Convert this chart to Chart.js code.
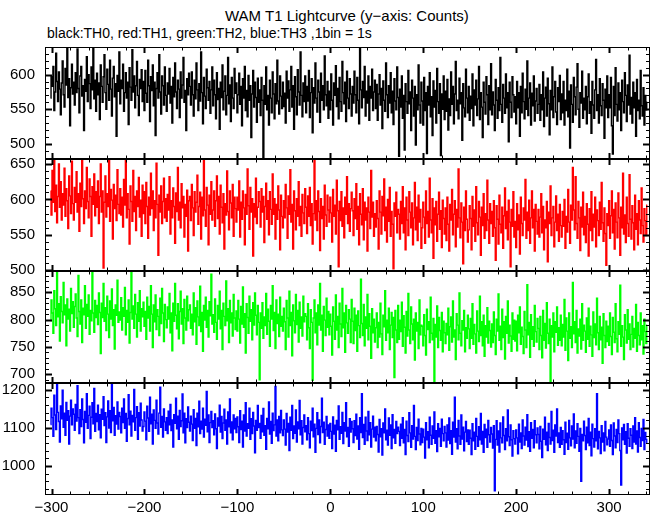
<!DOCTYPE html>
<html>
<head>
<meta charset="utf-8">
<script src="https://cdn.jsdelivr.net/npm/chart.js@4.4.1/dist/chart.umd.min.js"></script>
<style>
  body { margin: 0; background: #fff; }
  #wrap { position: relative; width: 652px; height: 515px; overflow: hidden; background: #fff; }
  .txt { position: absolute; font-family: "Liberation Sans", Arial, Helvetica, sans-serif; color: #000; white-space: nowrap; line-height: 1; }
  .panel { position: absolute; left: 0; }
</style>
</head>
<body>
<div id="wrap">
  <div class="txt" style="left:225px; top:8px; font-size:15px;">WAM T1 Lightcurve (y&minus;axis: Counts)</div>
  <div class="txt" style="left:47px; top:26px; font-size:14px;">black:TH0, red:TH1, green:TH2, blue:TH3 ,1bin = 1s</div>
  <div class="panel" style="top:37px"><canvas id="p0" width="652" height="132"></canvas></div>
  <div class="panel" style="top:149px"><canvas id="p1" width="652" height="132"></canvas></div>
  <div class="panel" style="top:261px"><canvas id="p2" width="652" height="132"></canvas></div>
  <div class="panel" style="top:373px"><canvas id="p3" width="652" height="142"></canvas></div>
</div>
<script>
// time axis: first bin centre and bin width (s)
const t0 = -301;
const binWidth = 1;
const xMin = -307, xMax = 344;
const xTicks = [-300, -200, -100, 0, 100, 200, 300];

// TH0 counts (black), one row = 25 s
const th0 = [
  566,597,583,612,548, 575,631,590,561,604, 579,542,588,620,571, 553,609,585,640,567, 594,526,581,615,572,
  589,556,603,574,637, 580,545,598,612,569, 584,519,593,576,626, 561,600,587,551,611, 578,640,565,592,547,
  602,571,588,535,614, 583,560,597,629,574, 550,608,586,563,621, 579,540,595,612,568, 587,511,599,576,633,
  558,592,580,615,547, 574,603,566,589,528, 610,582,563,636,575, 598,552,584,619,570, 541,593,580,607,561,
  590,548,606,573,560, 621,584,532,597,577, 614,555,589,512,580, 603,566,629,575,543, 598,584,556,611,570,
  547,588,572,609,559, 583,530,596,568,617, 575,551,592,579,538, 604,566,585,625,560, 577,519,594,571,602,
  583,556,604,571,540, 592,565,617,578,548, 587,562,633,574,529, 596,569,551,608,581, 563,590,544,578,611,
  555,592,571,536,603, 564,580,521,589,567, 614,549,576,598,542, 570,625,558,585,532, 596,566,551,609,573,
  588,545,571,602,557, 583,526,594,566,612, 548,577,539,599,563, 584,509,572,606,553, 589,567,531,595,560,
  578,541,596,563,478, 584,557,611,549,570, 527,592,566,545,604, 572,536,587,558,621, 562,543,598,569,551,
  589,554,573,530,605, 566,591,547,578,612, 553,584,521,597,568, 542,607,575,556,633, 570,539,588,561,598,
  545,583,562,606,538, 574,594,516,581,559, 617,566,546,592,575, 531,602,563,584,549, 627,571,555,590,537,
  576,549,601,563,527, 588,570,613,554,580, 536,596,561,547,619, 574,558,589,532,605, 566,551,594,572,540,
  583,559,605,571,545, 596,563,529,642,578, 552,590,567,612,540, 576,559,598,534,583, 566,608,548,575,592,
  551,586,534,572,600, 556,580,522,591,563, 547,617,571,538,584, 559,603,545,576,528, 594,562,549,611,567,
  482,579,553,598,537, 570,491,587,561,544, 606,558,575,519,592, 566,540,583,498,571, 549,614,556,530,589,
  562,527,596,548,574, 486,583,556,603,539, 568,512,591,553,577, 530,609,561,544,587, 483,572,550,598,535,
  576,547,593,520,565, 541,604,557,583,529, 572,619,548,563,536, 595,558,574,505,587, 552,539,608,566,545,
  583,534,569,551,601, 526,578,556,592,541, 565,612,535,574,553, 509,589,560,543,597, 571,528,584,549,616,
  542,575,556,519,593, 563,537,581,548,625, 557,531,586,566,544, 601,552,574,503,589, 560,538,597,571,546,
  568,529,590,552,574, 511,583,545,602,561, 536,579,550,620,541, 566,588,527,573,555, 598,533,562,580,544,
  557,586,534,571,549, 604,525,566,582,540, 595,558,513,577,549, 611,538,568,590,546, 528,581,561,599,535,
  572,545,590,527,563, 548,608,539,576,494, 585,557,531,596,568, 542,582,616,550,524, 574,559,605,537,566,
  549,583,529,568,601, 544,561,515,590,556, 537,578,622,548,571, 530,594,555,541,587, 563,508,579,552,598,
  538,571,552,596,526, 485,583,541,610,557, 533,588,549,574,519, 592,561,545,603,570, 532,585,556,628,543,
  567,530,589,552,574, 511,593,548,563,536, 606,555,540,581,527, 570,549,560
];
// TH1 counts (red)
const th1 = [
  612,578,641,596,658, 583,620,567,604,650, 589,625,571,608,592, 644,576,615,598,559, 633,605,580,654,594,
  571,617,596,639,582, 608,555,623,590,658, 601,566,612,587,645, 597,574,629,604,548, 618,593,636,577,611,
  589,626,566,604,650, 582,612,503,596,633, 575,608,590,657,569, 614,599,544,621,587, 606,570,642,593,580,
  615,578,603,561,628, 592,657,574,608,586, 537,619,597,569,641, 583,604,556,612,590, 631,575,599,548,620,
  580,611,566,624,590, 545,603,578,637,587, 612,556,598,574,651, 593,521,606,582,619, 566,597,630,574,601,
  569,607,585,632,551, 598,574,616,590,538, 609,583,645,571,596, 560,622,588,604,547, 593,576,613,527,598,
  604,570,621,588,549, 611,582,596,634,565, 590,610,544,603,577, 657,585,562,617,592, 536,606,579,625,571,
  585,612,562,598,633, 573,604,551,620,589, 567,608,530,594,578, 640,583,557,612,595, 574,621,548,603,587,
  568,603,585,626,547, 596,572,612,588,536, 607,579,643,591,558, 617,582,601,520,594, 575,630,566,589,611,
  597,561,615,582,604, 539,590,623,572,598, 550,611,586,565,636, 579,601,544,593,572, 619,585,529,606,576,
  560,598,574,621,588, 545,605,579,642,568, 593,530,612,584,557, 601,576,625,563,590, 548,607,581,566,615,
  589,552,605,576,617, 563,594,537,580,657, 571,598,556,612,583, 528,601,573,590,544, 620,578,562,606,585,
  568,603,581,540,614, 576,592,551,627,584, 505,597,570,611,562, 588,546,603,579,632, 566,594,555,587,610,
  584,549,601,573,622, 558,590,536,608,579, 564,615,543,596,571, 588,527,603,582,559, 641,575,596,548,580,
  561,598,573,530,612, 582,551,604,577,629, 556,589,540,600,569, 617,548,583,565,502, 595,576,610,553,586,
  579,544,597,566,618, 553,588,529,603,571, 549,611,582,560,595, 536,574,624,557,589, 542,606,568,586,531,
  560,596,575,538,612, 566,583,547,630,571, 553,601,517,588,564, 597,541,579,610,558, 584,532,599,573,551,
  588,542,603,565,527, 593,571,614,550,579, 598,533,586,561,643, 574,546,595,568,509, 589,556,612,572,540,
  557,591,573,529,604, 562,585,541,618,567, 550,597,575,521,589, 563,608,545,580,556, 627,571,538,594,566,
  583,548,598,560,514, 591,572,537,606,565, 553,589,531,577,616, 559,583,543,599,568, 505,586,562,611,547,
  569,532,594,557,578, 523,603,566,549,588, 571,628,545,582,556, 599,538,574,612,560, 586,527,593,569,551,
  586,547,575,608,553, 590,529,571,560,597, 512,582,566,619,549, 574,590,533,568,605, 556,579,541,593,563,
  547,583,562,600,531, 576,554,614,568,538, 592,571,645,585,557, 632,566,545,597,574, 528,589,561,610,550,
  576,539,594,565,520, 587,556,611,542,579, 561,603,533,585,570, 549,596,558,624,567, 541,588,552,507,580,
  563,598,545,577,612, 553,586,530,595,568, 546,609,574,521,589, 560,637,551,578,539, 603,566,548,635,572,
  544,591,567,529,606, 558,580,536,598,571, 552,616,563,540,587, 570,549,592
];
// TH2 counts (green)
const th2 = [
  798,836,812,775,853, 820,789,889,805,829, 761,842,815,794,868, 809,827,752,838,801, 819,779,857,811,833,
  786,824,847,803,769, 881,815,792,836,758, 821,809,862,784,828, 806,845,773,817,798, 889,812,777,835,804,
  826,791,849,813,738, 830,804,866,797,822, 780,843,810,767,834, 801,856,789,818,746, 827,808,872,795,814,
  799,840,781,822,806, 859,772,817,795,836, 757,813,889,801,825, 784,846,810,768,831, 797,853,779,820,805,
  832,788,815,764,841, 803,824,779,862,810, 749,827,796,845,782, 818,806,771,839,793, 857,812,760,828,800,
  785,823,801,848,776, 812,743,830,797,866, 808,783,829,765,815, 852,792,820,756,837, 803,781,843,798,818,
  827,784,810,772,849, 796,822,755,834,805, 789,861,778,813,742, 826,799,841,786,817, 768,833,807,883,792,
  809,777,838,795,764, 826,801,852,783,817, 745,830,806,789,871, 798,820,758,835,794, 812,770,846,803,782,
  816,779,835,801,757, 824,792,860,786,811, 739,829,804,775,843, 797,818,763,831,790, 849,808,772,826,795,
  690,812,784,831,766, 805,789,848,773,819, 797,751,826,801,862, 780,813,747,836,793, 810,769,841,788,806,
  779,821,796,745,835, 803,768,852,789,813, 734,827,798,776,846, 791,817,759,832,784, 805,770,843,796,811,
  806,763,829,785,747, 818,795,689,803,836, 776,812,754,827,790, 866,781,808,742,824, 799,771,839,786,815,
  772,810,788,735,823, 797,764,845,781,806, 749,830,792,769,857, 785,812,740,826,794, 775,818,801,758,837,
  797,756,821,780,808, 742,816,789,767,874, 793,771,828,752,805, 784,846,763,811,788, 729,820,776,801,759,
  785,812,749,795,768, 830,774,736,808,787, 853,762,799,776,821, 745,790,813,767,804, 694,817,781,758,826,
  764,799,778,832,751, 807,786,739,815,770, 848,781,756,823,792, 763,801,726,812,779, 795,747,836,772,790,
  788,752,809,771,735, 819,782,796,758,841, 775,763,802,685,791, 768,825,749,804,780, 762,813,741,797,776,
  756,793,772,821,744, 787,805,759,834,768, 781,727,811,790,763, 849,775,752,798,781, 817,741,785,766,808,
  783,747,802,766,829, 755,791,774,739,816, 779,760,843,771,796, 752,808,733,789,768, 822,757,797,780,750,
  792,758,814,771,736, 801,779,847,762,788, 745,819,767,796,728, 806,775,834,757,790, 770,742,812,764,799,
  761,797,743,808,776, 823,755,786,769,738, 815,781,749,864,772, 795,731,809,764,787, 751,826,778,759,802,
  784,745,806,771,730, 817,762,793,748,831, 775,756,801,686,789, 768,812,741,796,777, 823,753,785,762,808,
  752,791,768,837,744, 803,779,725,812,766, 787,749,868,774,796, 758,817,739,783,770, 801,746,829,762,790,
  779,740,803,764,821, 751,788,772,733,814, 767,792,754,839,776, 745,806,763,786,720, 811,771,749,797,760,
  788,753,812,769,736, 804,777,758,829,765, 741,796,773,863,751, 789,768,727,809,781, 757,818,764,792,745,
  773,806,750,784,766, 828,742,795,771,754, 812,763,789,737,801, 778,756,790
];
// TH3 counts (blue)
const th3 = [
  1109,1152,1127,1078,1186, 1134,1096,1218,1141,1117, 1063,1158,1124,1199,1102, 1139,1081,1167,1120,1145, 1058,1131,1173,1108,1150,
  1136,1094,1162,1118,1211, 1127,1085,1148,1104,1176, 1122,1061,1143,1115,1190, 1099,1133,1157,1072,1128, 1166,1111,1204,1091,1138,
  1117,1160,1095,1135,1074, 1149,1123,1182,1106,1140, 1062,1129,1171,1100,1145, 1088,1218,1119,1154,1081, 1132,1110,1168,1097,1141,
  1130,1087,1152,1114,1176, 1099,1138,1065,1125,1187, 1108,1144,1079,1133,1116, 1201,1094,1127,1156,1070, 1140,1105,1165,1121,1092,
  1104,1142,1118,1069,1157, 1126,1091,1181,1111,1136, 1058,1147,1120,1099,1173, 1113,1084,1139,1207,1102, 1130,1076,1150,1116,1094,
  1127,1085,1144,1108,1162, 1093,1121,1050,1135,1112, 1178,1098,1131,1070,1146, 1104,1119,1189,1087,1139, 1061,1124,1101,1155,1115,
  1092,1131,1110,1067,1148, 1099,1125,1054,1139,1103, 1170,1085,1118,1097,1152, 1076,1123,1107,1196,1090, 1134,1062,1114,1143,1101,
  1119,1082,1137,1098,1046, 1126,1105,1160,1089,1130, 1072,1113,1149,1094,1121, 1058,1142,1103,1176,1087, 1116,1069,1134,1098,1125,
  1088,1129,1103,1062,1145, 1096,1118,1050,1134,1092, 1166,1079,1111,1099,1152, 1070,1124,1085,1141,1105, 1035,1120,1094,1159,1101,
  1112,1073,1133,1090,1151, 1081,1106,1044,1125,1098, 1168,1084,1117,1060,1139, 1093,1108,1209,1079,1121, 1066,1130,1087,1146,1095,
  1080,1121,1097,1055,1138, 1089,1112,1041,1128,1094, 1159,1072,1105,1086,1147, 1063,1116,1098,1172,1082, 1119,1058,1101,1134,1090,
  1106,1069,1127,1085,1048, 1118,1093,1152,1077,1110, 1036,1099,1140,1083,1121, 1061,1104,1178,1088,1115, 1057,1096,1130,1079,1108,
  1073,1112,1091,1046,1129, 1084,1107,1039,1120,1095, 1158,1070,1103,1086,1141, 1059,1114,1092,1166,1077, 1101,1052,1124,1089,1117,
  1098,1062,1119,1080,1136, 1071,1105,1044,1127,1088, 1190,1075,1109,1057,1128, 1092,1067,1143,1082,1114, 1050,1097,1131,1076,1102,
  1066,1104,1083,1037,1122, 1077,1098,1029,1113,1087, 1150,1069,1094,1055,1126, 1081,1108,1046,1135,1074, 1096,1060,1117,1085,1102,
  1091,1054,1110,1073,1127, 1061,1096,1030,1118,1080, 1064,1140,1087,1049,1106, 1071,1159,1078,1043,1101, 1067,1123,1084,1056,1099,
  1062,1097,1076,1021,1114, 1069,1090,1048,1128,1081, 1057,1105,1073,1142,1060, 1093,1038,1111,1077,1099, 1052,1123,1085,1066,1104,
  1087,1050,1108,1068,1126, 1059,1093,1031,1115,1076, 1181,1063,1098,1045,1120, 1079,1057,1134,1071,1102, 1040,1089,1117,1064,1095,
  1057,1094,1073,1030,1111, 1066,1089,1044,1125,1078, 1052,1103,1069,1138,1058, 1091,1036,1109,1075,1097, 1049,1120,1082,1063,1101,
  1084,1047,1106,935,1070, 1119,1055,1092,1037,1113, 1074,1061,1129,1080,1043, 1098,1066,1147,1077,1054, 1108,1069,1026,1093,1072,
  1058,1095,1074,1032,1110, 1063,1087,1046,1121,1079, 1055,1102,1068,1135,1051, 1090,1039,1114,1073,1096, 1048,1119,1082,1061,1100,
  1083,1045,1104,1065,1022, 1097,1070,1128,1056,1089, 1041,1112,1075,1058,1143, 1067,1094,1036,1108,1079, 1150,1062,1087,1049,1101,
  1057,1093,1069,1031,1115, 1062,1086,1044,1120,1074, 1053,1105,1071,1137,1048, 1092,1060,1111,1078,1039, 1099,960,1083,1066,1118,
  1080,1043,1102,1061,1125, 1054,1089,1027,1110,1072, 1050,1098,1066,1190,1045, 1091,1074,1033,1106,1063, 1087,1040,1117,1076,1056,
  1071,1095,1052,1108,1067, 1030,1113,1079,1048,1096, 1062,1121,1085,1041,950, 1100,1069,1109,1057,1090, 1034,1111,1073,1052,1098,
  1081,1046,1105,1063,1127, 1058,1092,1037,1114,1075, 1052,1099,1067,1122,1043, 1088,1070,1060
];

const yRanges = [[478, 640], [499, 657], [684, 889], [924, 1218]];
const yTicks = [[500, 550, 600], [500, 550, 600, 650], [700, 750, 800, 850], [1000, 1100, 1200]];
const yMinor = [10, 10, 10, 20];
const yMajor = [50, 50, 50, 100];

const FONT = '"Liberation Sans", Arial, Helvetica, sans-serif';

function minusLabel(v) {
    return v < 0 ? '\u2212' + Math.abs(v) : String(v);
}

// frame and inward tick marks on all four sides
const framePlugin = {
    id: 'frame',
    afterDraw(chart) {
        const {ctx, chartArea: a, scales: {x, y}} = chart;
        const idx = chart.options.plugins.frame.idx;
        ctx.save();
        ctx.strokeStyle = '#000';
        ctx.lineWidth = 1;
        ctx.strokeRect(a.left + 0.5, a.top + 0.5, a.right - a.left - 1, a.bottom - a.top - 1);
        const seg = (x1, y1, x2, y2, w) => {
            ctx.lineWidth = w;
            ctx.beginPath(); ctx.moveTo(x1, y1); ctx.lineTo(x2, y2); ctx.stroke();
        };
        for (let v = Math.ceil(xMin / 20) * 20; v <= xMax; v += 20) {
            const px = Math.round(x.getPixelForValue(v)) + 0.5;
            const major = v % 100 === 0;
            const len = major ? 6 : 3.5;
            seg(px, a.top, px, a.top + len, major ? 2 : 1);
            seg(px, a.bottom, px, a.bottom - len, major ? 2 : 1);
        }
        const step = yMinor[idx];
        for (let v = Math.ceil(y.min / step) * step; v <= y.max; v += step) {
            const py = Math.round(y.getPixelForValue(v)) + 0.5;
            const major = v % yMajor[idx] === 0;
            const len = major ? 7 : 4;
            seg(a.left, py, a.left + len, py, major ? 2 : 1);
            seg(a.right, py, a.right - len, py, major ? 2 : 1);
        }
        ctx.restore();
    }
};

function makePanel(idx, values, color, showX) {
    const data = values.map((v, i) => ({x: t0 + i * binWidth, y: v}));
    const xScale = {
        type: 'linear',
        min: xMin,
        max: xMax,
        display: showX,
        grid: {display: false, drawTicks: false},
        border: {display: false},
        afterBuildTicks: s => { s.ticks = xTicks.map(v => ({value: v})); },
        ticks: {
            padding: 4,
            maxRotation: 0,
            autoSkip: false,
            color: '#000',
            font: {family: FONT, size: 15},
            callback: v => minusLabel(v)
        }
    };
    if (showX) xScale.afterFit = s => { s.height = 20; };
    new Chart(document.getElementById('p' + idx), {
        type: 'line',
        data: {
            datasets: [{
                data: data,
                borderColor: color,
                borderWidth: 1.4,
                pointRadius: 0,
                stepped: 'middle',
                fill: false
            }]
        },
        options: {
            responsive: false,
            animation: false,
            events: [],
            layout: {padding: {top: 10, bottom: showX ? 0 : 10, left: 0, right: 2}},
            plugins: {legend: {display: false}, tooltip: {enabled: false}, frame: {idx: idx}},
            scales: {
                x: xScale,
                y: {
                    min: yRanges[idx][0],
                    max: yRanges[idx][1],
                    grid: {display: false, drawTicks: true, tickLength: 10},
                    border: {display: false},
                    afterBuildTicks: s => { s.ticks = yTicks[idx].map(v => ({value: v})); },
                    afterFit: s => { s.width = 45; },
                    ticks: {
                        padding: 0,
                        color: '#000',
                        font: {family: FONT, size: 15},
                        callback: v => String(v)
                    }
                }
            }
        },
        plugins: [framePlugin]
    });
}

makePanel(0, th0, '#000000', false);
makePanel(1, th1, '#ff0000', false);
makePanel(2, th2, '#00ff00', false);
makePanel(3, th3, '#0000ff', true);
</script>
</body>
</html>
